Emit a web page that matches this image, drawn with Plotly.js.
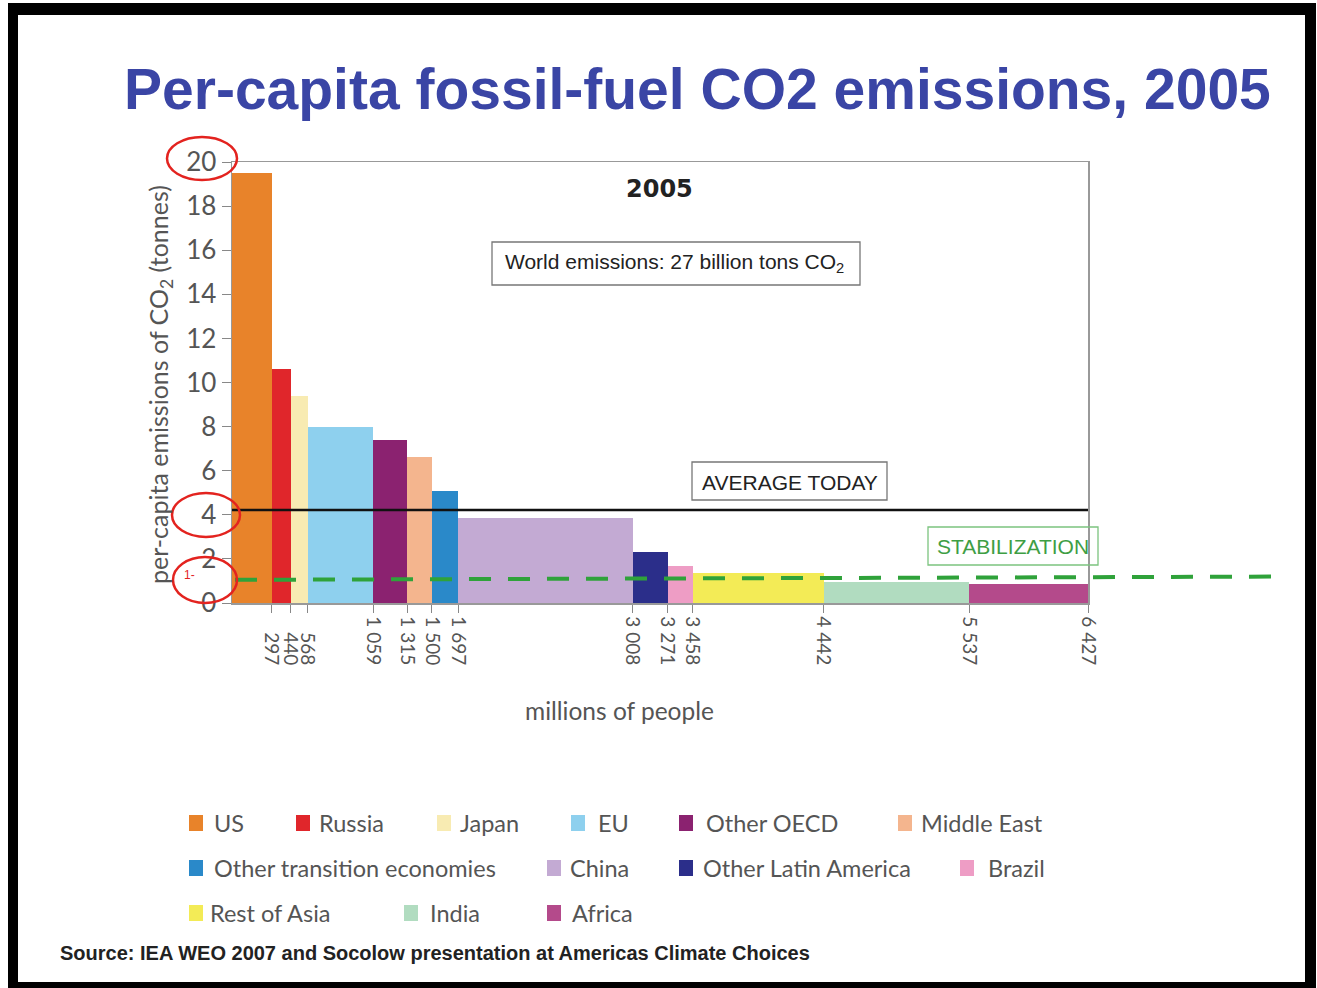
<!DOCTYPE html>
<html>
<head>
<meta charset="utf-8">
<script src="https://cdn.plot.ly/plotly-3.0.1.min.js"></script>
<style>
  html, body { margin: 0; padding: 0; background: #ffffff; }
  #frame { position: absolute; left: 8px; top: 3px; width: 1287px; height: 967px;
           border-style: solid; border-color: #000; border-width: 12px 11px 6px 10px; background: #fff; }
  #chart { position: absolute; left: 0; top: 0; width: 1317px; height: 988px; }
</style>
</head>
<body>
<div id="frame"></div>
<div id="chart"></div>
<script>
// ---------------- data ----------------
const categories = ['US', 'Russia', 'Japan', 'EU', 'Other OECD', 'Middle East',
  'Other transition economies', 'China', 'Other Latin America', 'Brazil',
  'Rest of Asia', 'India', 'Africa'];
// cumulative population (millions of people), right edge of each bar
const cumulativePopulation = [297, 440, 568, 1059, 1315, 1500, 1697, 3008, 3271, 3458, 4442, 5537, 6427];
// per-capita emissions of CO2 (tonnes)
const perCapitaCO2 = [19.5, 10.6, 9.4, 8.0, 7.4, 6.6, 5.1, 3.85, 2.3, 1.7, 1.35, 0.95, 0.85];
const barColors = ['#E8832A', '#E0262B', '#F8EBB2', '#8ED0EE', '#8B2270', '#F4B58E',
  '#2A89C9', '#C3AAD3', '#2B2E8A', '#EE9DC5', '#F3EB56', '#B1DCC0', '#B44A8B'];
const xTickLabels = ['297', '440', '568', '1 059', '1 315', '1 500', '1 697', '3 008', '3 271', '3 458', '4 442', '5 537', '6 427'];
const yTickValues = [0, 2, 4, 6, 8, 10, 12, 14, 16, 18, 20];
const averageToday = 4.22;
const stabilizationStartEnd = [1.05, 1.2];

// ---------------- derived bar geometry (from data) ----------------
const starts = cumulativePopulation.map((v, i) => i === 0 ? 0 : cumulativePopulation[i - 1]);
const widths = cumulativePopulation.map((v, i) => v - starts[i]);
const mids = cumulativePopulation.map((v, i) => starts[i] + widths[i] / 2);
// labels are end-aligned in the original: pad the short ones at the start
const paddedTickText = xTickLabels.map(t => t.length < 4 ? '\u2007\u00A0' + t : t);

// ---------------- layout helpers (pixel -> paper) ----------------
const PL = 232, PR = 1088, PT = 162, PB = 603;
const X = px => (px - PL) / (PR - PL);
const Y = py => (PB - py) / (PB - PT);
const yMax = 20;

const gray = '#555555';
const geo = 'Lato, "Noto Sans", sans-serif';
const arial = '"Liberation Sans", Arial, sans-serif';

const trace = {
  type: 'bar',
  x: mids,
  y: perCapitaCO2,
  width: widths,
  text: categories,
  hoverinfo: 'text+y',
  textposition: 'none',
  marker: { color: barColors, line: { width: 0 } },
  showlegend: false
};

const shapes = [];
const annotations = [];

// average line (data coords)
shapes.push({ type: 'line', xref: 'x', yref: 'y', x0: 0, x1: cumulativePopulation[cumulativePopulation.length - 1],
  y0: averageToday, y1: averageToday, line: { color: '#111', width: 2.4 } });
// stabilization dashed line extends beyond plot
shapes.push({ type: 'line', xref: 'paper', yref: 'paper', x0: X(235), x1: X(1282),
  y0: stabilizationStartEnd[0] / yMax, y1: stabilizationStartEnd[1] / yMax,
  line: { color: '#2FA23A', width: 4, dash: '22px,17px' } });

// boxes
function box(x0, x1, y0, y1, color) {
  shapes.push({ type: 'rect', xref: 'paper', yref: 'paper', x0: X(x0), x1: X(x1), y0: Y(y1), y1: Y(y0),
    line: { color: color, width: 1.3 }, fillcolor: 'rgba(0,0,0,0)' });
}
box(492, 860, 242, 285, '#777');
box(692, 887, 462, 500, '#777');
box(928, 1098, 527, 565, '#7CC47F');

// red ellipses
function ell(x0, x1, y0, y1) {
  shapes.push({ type: 'circle', xref: 'paper', yref: 'paper', x0: X(x0), x1: X(x1), y0: Y(y1), y1: Y(y0),
    line: { color: '#E3231F', width: 2.5 } });
}
ell(167, 237, 137, 180);
ell(172, 240, 493, 537);
ell(173, 237, 557, 603);

function txt(text, px, py, size, color, family, opts) {
  annotations.push(Object.assign({ text: text, x: X(px), y: Y(py), xref: 'paper', yref: 'paper',
    showarrow: false, xanchor: 'center', yanchor: 'middle',
    font: { size: size, color: color, family: family } }, opts || {}));
}

// titles and labels
txt('<b>Per-capita fossil-fuel CO2 emissions, 2005</b>', 697, 89, 57, '#3A45A5', arial);
txt('<b>2005</b>', 659, 189, 24, '#222', '"DejaVu Sans", sans-serif');
txt('World emissions: 27 billion tons CO<sub>2</sub>', 674, 263, 21, '#222', arial);
txt('AVERAGE TODAY', 790, 482, 21, '#222', arial);
txt('STABILIZATION', 1013, 546, 21, '#3E9E44', arial);
txt('1-', 189, 575, 12, '#E3231F', arial);
txt('per-capita emissions of CO<sub>2</sub> (tonnes)', 160, 385, 25, gray, geo, { textangle: -90 });
txt('millions of people', 619, 710, 24.5, gray, geo);
txt('<b>Source: IEA WEO 2007 and Socolow presentation at Americas Climate Choices</b>', 58, 953, 20, '#222', arial,
  { xanchor: 'left' });

// legend (built from categories / colors)
const legendPlacement = [
  [189, 212, 823], [296, 317, 823], [437, 458, 823], [571, 596, 823], [679, 704, 823], [898, 919, 823],
  [189, 212, 868], [547, 568, 868], [679, 701, 868], [960, 986, 868],
  [189, 208, 913], [404, 428, 913], [547, 570, 913]
];
categories.forEach((c, i) => {
  const p = legendPlacement[i];
  shapes.push({ type: 'rect', xref: 'paper', yref: 'paper', x0: X(p[0]), x1: X(p[0] + 14),
    y0: Y(p[2] + 8), y1: Y(p[2] - 8), line: { width: 0 }, fillcolor: barColors[i] });
  txt(c, p[1], p[2], 23.5, gray, geo, { xanchor: 'left' });
});

const layout = {
  width: 1317, height: 988, autosize: false,
  margin: { l: PL, r: 1317 - PR, t: PT, b: 988 - PB, pad: 0 },
  paper_bgcolor: 'rgba(0,0,0,0)',
  plot_bgcolor: '#ffffff',
  bargap: 0,
  xaxis: {
    range: [0, cumulativePopulation[cumulativePopulation.length - 1]],
    tickmode: 'array', tickvals: cumulativePopulation, ticktext: paddedTickText,
    tickangle: 90, ticks: 'outside', ticklen: 8, tickcolor: '#888', tickwidth: 1,
    tickfont: { size: 19, color: gray, family: geo },
    showline: true, linecolor: '#999', linewidth: 1.5, mirror: true,
    showgrid: false, zeroline: false, fixedrange: true
  },
  yaxis: {
    range: [0, yMax],
    tickmode: 'array', tickvals: yTickValues,
    ticks: 'outside', ticklen: 9, tickcolor: '#888', tickwidth: 1,
    tickfont: { size: 26, color: gray, family: geo },
    showline: true, linecolor: '#999', linewidth: 1.5, mirror: true,
    showgrid: false, zeroline: false, fixedrange: true
  },
  shapes: shapes,
  annotations: annotations,
  showlegend: false
};

Plotly.newPlot('chart', [trace], layout, { displayModeBar: false, staticPlot: true });
</script>
</body>
</html>
